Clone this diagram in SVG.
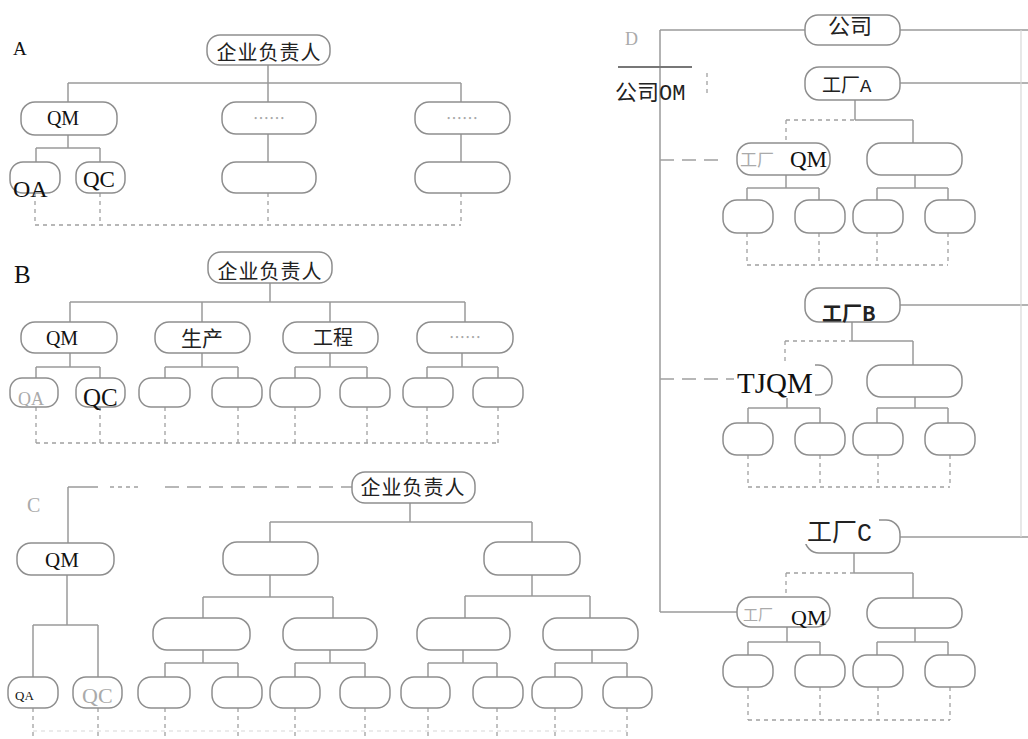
<svg xmlns="http://www.w3.org/2000/svg" width="1028" height="739" viewBox="0 0 1028 739">
<style>
.s{stroke:#9a9a9a;stroke-width:1.5;fill:none}
.d{stroke:#a0a0a0;stroke-width:1.3;fill:none;stroke-dasharray:4 4}
.ld{stroke:#a0a0a0;stroke-width:1.5;fill:none;stroke-dasharray:14 8}
.f{stroke:#d8d8d8;stroke-width:1.2;fill:none}
.bx{fill:#fff;stroke:#8e8e8e;stroke-width:1.5}
.cj{font-family:"Noto Sans CJK SC",sans-serif;fill:#222}
.se{font-family:"Liberation Serif","Noto Sans CJK SC",serif;fill:#111}
.mo{font-family:"Liberation Mono",monospace;fill:#222}
.g{fill:#aaa}
.dots{font-family:"Noto Sans CJK SC",sans-serif;fill:#a8a8a8;font-size:16px}
</style>
<rect width="1028" height="739" fill="#fff"/>
<g id="connectors">
<path class="s" d="M268 65V83M68 83H461M68 83V102M268 83V102M461 83V102M68 135V148M36 148H100M36 148V162M100 148V162M268 134V162M461 134V162"/>
<path class="d" d="M35 193V225M100 193V225M268 193V225M461 193V225M35 225H461"/>
<path class="s" d="M270 283V302M70 302H465M70 302V322M202 302V322M330 302V322M465 302V322M70 353V367M36 367H100M36 367V378M100 367V378M202 353V367M165 367H238M165 367V378M238 367V378M330 353V367M295 367H367M295 367V378M367 367V378M462 353V367M427 367H498M427 367V378M498 367V378"/>
<path class="d" d="M36 407V443M100 407V443M165 407V443M238 407V443M295 407V443M367 407V443M427 407V443M498 407V443M36 443H498"/>
<path class="s" d="M68 487V543M68 487H98"/>
<path class="d" d="M110 487H140"/>
<path class="ld" d="M165 487H352"/>
<path class="s" d="M410 503V522M270 522H532M270 522V542M532 522V542M67 575V625M33 625H98M33 625V677M98 625V677M270 575V597M203 597H333M203 597V618M333 597V618M532 575V596M465 596H590M465 596V618M590 596V618M203 650V663M165 663H238M165 663V677M238 663V677M330 650V663M295 663H365M295 663V677M365 663V677M463 650V663M428 663H497M428 663V677M497 663V677M592 650V663M555 663H627M555 663V677M627 663V677"/>
<path class="d" d="M33 708V739M98 708V739M165 708V739M238 708V739M295 708V739M365 708V739M428 708V739M497 708V739M555 708V739M627 708V739"/>
<path class="f" stroke-dasharray="4 4" d="M33 731H627"/>
<path class="s" d="M660 30V612M660 30H805M900 30H1028M900 83H1028M900 305H1028M900 537H1028"/>
<path class="f" d="M1021 30V537"/>
<path stroke="#777" stroke-width="2" fill="none" d="M618 67H692"/>
<path class="d" d="M707 73V93"/>
<path class="s" d="M855 100V120M855 120H913M913 120V143M786 175V188M747 188H819M747 188V200M819 188V200M915 175V188M877 188H948M877 188V200M948 188V200"/>
<path class="d" d="M786 120H855M786 120V143M747 233V265M819 233V265M877 233V265M948 233V265M747 265H948"/>
<path class="ld" d="M660 160H718"/>
<path class="s" d="M852 322V341M852 341H913M913 341V365M787 395V408M748 408H820M748 408V423M820 408V423M915 397V408M877 408H948M877 408V423M948 408V423"/>
<path class="d" d="M785 341H852M785 341V363M748 455V487M820 455V487M878 455V487M950 455V487M748 487H950"/>
<path class="ld" d="M660 379H737"/>
<path class="s" d="M854 553V573M854 573H913M913 573V598M660 612H737M787 627V642M748 642H820M748 642V655M820 642V655M915 628V642M877 642H948M877 642V655M948 642V655"/>
<path class="d" d="M786 573H854M786 573V597M748 687V720M820 687V720M878 687V720M950 687V720M748 720H950"/>
</g>
<text class="se" x="13" y="55" font-size="19">A</text>
<text class="se" x="14" y="283" font-size="25">B</text>
<text class="se g" x="27" y="512" font-size="20">C</text>
<text class="se g" x="625" y="45" font-size="18">D</text>
<g id="a-root"><rect class="bx" x="207" y="35" width="123" height="30" rx="13"/><text class="cj" x="269" y="60" font-size="20" text-anchor="middle" letter-spacing="1">企业负责人</text></g>
<g id="a-qm"><rect class="bx" x="21" y="102" width="96" height="33" rx="14"/><text class="se" x="63" y="125" font-size="20" text-anchor="middle">QM</text></g>
<g id="a-mid1"><rect class="bx" x="222" y="102" width="94" height="32" rx="14"/><text class="dots" x="269" y="124" text-anchor="middle">……</text></g>
<g id="a-right1"><rect class="bx" x="415" y="102" width="95" height="32" rx="14"/><text class="dots" x="462" y="124" text-anchor="middle">……</text></g>
<g id="a-oa"><rect class="bx" x="10" y="162" width="50" height="31" rx="13"/><text class="se" x="13" y="197" font-size="24">OA</text></g>
<g id="a-qc"><rect class="bx" x="76" y="162" width="49" height="31" rx="13"/><text class="se" x="83" y="187" font-size="23">QC</text></g>
<g id="a-mid2"><rect class="bx" x="222" y="162" width="94" height="31" rx="14"/></g>
<g id="a-right2"><rect class="bx" x="415" y="162" width="95" height="31" rx="14"/></g>
<g id="b-root"><rect class="bx" x="208" y="252" width="124" height="31" rx="13"/><text class="cj" x="270" y="279" font-size="20" text-anchor="middle" letter-spacing="1">企业负责人</text></g>
<g id="b-qm"><rect class="bx" x="21" y="322" width="96" height="31" rx="14"/><text class="se" x="62" y="345" font-size="20" text-anchor="middle">QM</text></g>
<g id="b-prod"><rect class="bx" x="155" y="322" width="95" height="31" rx="14"/><text class="cj" x="202" y="346" font-size="21" text-anchor="middle">生产</text></g>
<g id="b-eng"><rect class="bx" x="283" y="322" width="95" height="31" rx="14"/><text class="cj" x="333" y="345" font-size="20" text-anchor="middle">工程</text></g>
<g id="b-dots"><rect class="bx" x="417" y="322" width="96" height="31" rx="14"/><text class="dots" x="465" y="343" text-anchor="middle">……</text></g>
<g id="b-qa"><rect class="bx" x="10" y="378" width="48" height="29" rx="12"/><text class="se g" x="18" y="405" font-size="18">QA</text></g>
<g id="b-qc"><rect class="bx" x="76" y="378" width="49" height="29" rx="12"/><text class="se" x="83" y="406" font-size="25">QC</text></g>
<g id="b-l1"><rect class="bx" x="139" y="378" width="51" height="29" rx="12"/></g>
<g id="b-l2"><rect class="bx" x="212" y="378" width="50" height="29" rx="12"/></g>
<g id="b-l3"><rect class="bx" x="270" y="378" width="50" height="29" rx="12"/></g>
<g id="b-l4"><rect class="bx" x="340" y="378" width="50" height="29" rx="12"/></g>
<g id="b-l5"><rect class="bx" x="403" y="378" width="50" height="29" rx="12"/></g>
<g id="b-l6"><rect class="bx" x="473" y="378" width="50" height="29" rx="12"/></g>
<g id="c-root"><rect class="bx" x="352" y="472" width="123" height="31" rx="13"/><text class="cj" x="413" y="495" font-size="20" text-anchor="middle" letter-spacing="1">企业负责人</text></g>
<g id="c-qm"><rect class="bx" x="17" y="543" width="97" height="32" rx="14"/><text class="se" x="62" y="567" font-size="21" text-anchor="middle">QM</text></g>
<g id="c-l2a"><rect class="bx" x="223" y="542" width="95" height="33" rx="14"/></g>
<g id="c-l2b"><rect class="bx" x="484" y="542" width="96" height="33" rx="14"/></g>
<g id="c-l3a"><rect class="bx" x="153" y="618" width="97" height="32" rx="14"/></g>
<g id="c-l3b"><rect class="bx" x="283" y="618" width="94" height="32" rx="14"/></g>
<g id="c-l3c"><rect class="bx" x="417" y="618" width="93" height="32" rx="14"/></g>
<g id="c-l3d"><rect class="bx" x="543" y="618" width="95" height="32" rx="14"/></g>
<g id="c-qa"><rect class="bx" x="8" y="677" width="50" height="31" rx="13"/><text class="se" x="15" y="700" font-size="13">QA</text></g>
<g id="c-qc"><rect class="bx" x="73" y="677" width="49" height="31" rx="13"/><text class="se g" x="82" y="703" font-size="22">QC</text></g>
<g id="c-l4a"><rect class="bx" x="138" y="677" width="52" height="31" rx="13"/></g>
<g id="c-l4b"><rect class="bx" x="212" y="677" width="50" height="31" rx="13"/></g>
<g id="c-l4c"><rect class="bx" x="270" y="677" width="50" height="31" rx="13"/></g>
<g id="c-l4d"><rect class="bx" x="340" y="677" width="50" height="31" rx="13"/></g>
<g id="c-l4e"><rect class="bx" x="401" y="677" width="49" height="31" rx="13"/></g>
<g id="c-l4f"><rect class="bx" x="473" y="677" width="50" height="31" rx="13"/></g>
<g id="c-l4g"><rect class="bx" x="532" y="677" width="50" height="31" rx="13"/></g>
<g id="c-l4h"><rect class="bx" x="603" y="677" width="49" height="31" rx="13"/></g>
<g id="d-company"><rect class="bx" x="805" y="15" width="95" height="30" rx="13"/><text class="cj" x="850" y="34" font-size="22" text-anchor="middle" fill="#111">公司</text></g>
<g id="d-company-qm"><text x="615" y="100" font-size="22"><tspan class="cj" fill="#111">公司</tspan><tspan class="mo" fill="#111">OM</tspan></text></g>
<g id="d-fa"><rect class="bx" x="805" y="67" width="95" height="33" rx="14"/><text x="822" y="92" font-size="19"><tspan class="cj" fill="#333">工厂</tspan><tspan class="mo" fill="#333">A</tspan></text></g>
<g id="d-fa-qm"><rect class="bx" x="737" y="143" width="93" height="32" rx="14"/><text class="cj g" x="740" y="166" font-size="17">工厂</text><text class="se" x="790" y="167" font-size="23">QM</text></g>
<g id="d-fa-r"><rect class="bx" x="867" y="143" width="95" height="32" rx="14"/></g>
<g id="d-fa-l1"><rect class="bx" x="723" y="200" width="50" height="33" rx="14"/></g>
<g id="d-fa-l2"><rect class="bx" x="795" y="200" width="50" height="33" rx="14"/></g>
<g id="d-fa-l3"><rect class="bx" x="853" y="200" width="50" height="33" rx="14"/></g>
<g id="d-fa-l4"><rect class="bx" x="925" y="200" width="50" height="33" rx="14"/></g>
<g id="d-fb"><rect class="bx" x="805" y="288" width="95" height="34" rx="14"/><text class="cj" x="822" y="321" font-size="20" font-weight="bold" fill="#111">工厂B</text></g>
<g id="d-fb-qm"><rect class="bx" x="737" y="365" width="95" height="30" rx="14"/><rect x="734" y="363" width="81" height="35" fill="#fff"/><text class="se" x="737" y="393" font-size="29">TJQM</text></g>
<g id="d-fb-r"><rect class="bx" x="867" y="365" width="95" height="32" rx="14"/></g>
<g id="d-fb-l1"><rect class="bx" x="723" y="423" width="50" height="32" rx="14"/></g>
<g id="d-fb-l2"><rect class="bx" x="795" y="423" width="50" height="32" rx="14"/></g>
<g id="d-fb-l3"><rect class="bx" x="853" y="423" width="50" height="32" rx="14"/></g>
<g id="d-fb-l4"><rect class="bx" x="925" y="423" width="50" height="32" rx="14"/></g>
<g id="d-fc"><rect class="bx" x="805" y="520" width="95" height="33" rx="14"/><rect x="803" y="516" width="76" height="28" fill="#fff"/><text x="807" y="541" font-size="25"><tspan class="cj" fill="#111">工厂</tspan><tspan class="mo" fill="#111">C</tspan></text></g>
<g id="d-fc-qm"><rect class="bx" x="737" y="597" width="93" height="30" rx="14"/><text class="cj g" x="743" y="620" font-size="15">工厂</text><text class="se" x="791" y="625" font-size="22">QM</text></g>
<g id="d-fc-r"><rect class="bx" x="867" y="598" width="95" height="30" rx="14"/></g>
<g id="d-fc-l1"><rect class="bx" x="723" y="655" width="50" height="32" rx="14"/></g>
<g id="d-fc-l2"><rect class="bx" x="795" y="655" width="50" height="32" rx="14"/></g>
<g id="d-fc-l3"><rect class="bx" x="853" y="655" width="50" height="32" rx="14"/></g>
<g id="d-fc-l4"><rect class="bx" x="925" y="655" width="50" height="32" rx="14"/></g>
</svg>
